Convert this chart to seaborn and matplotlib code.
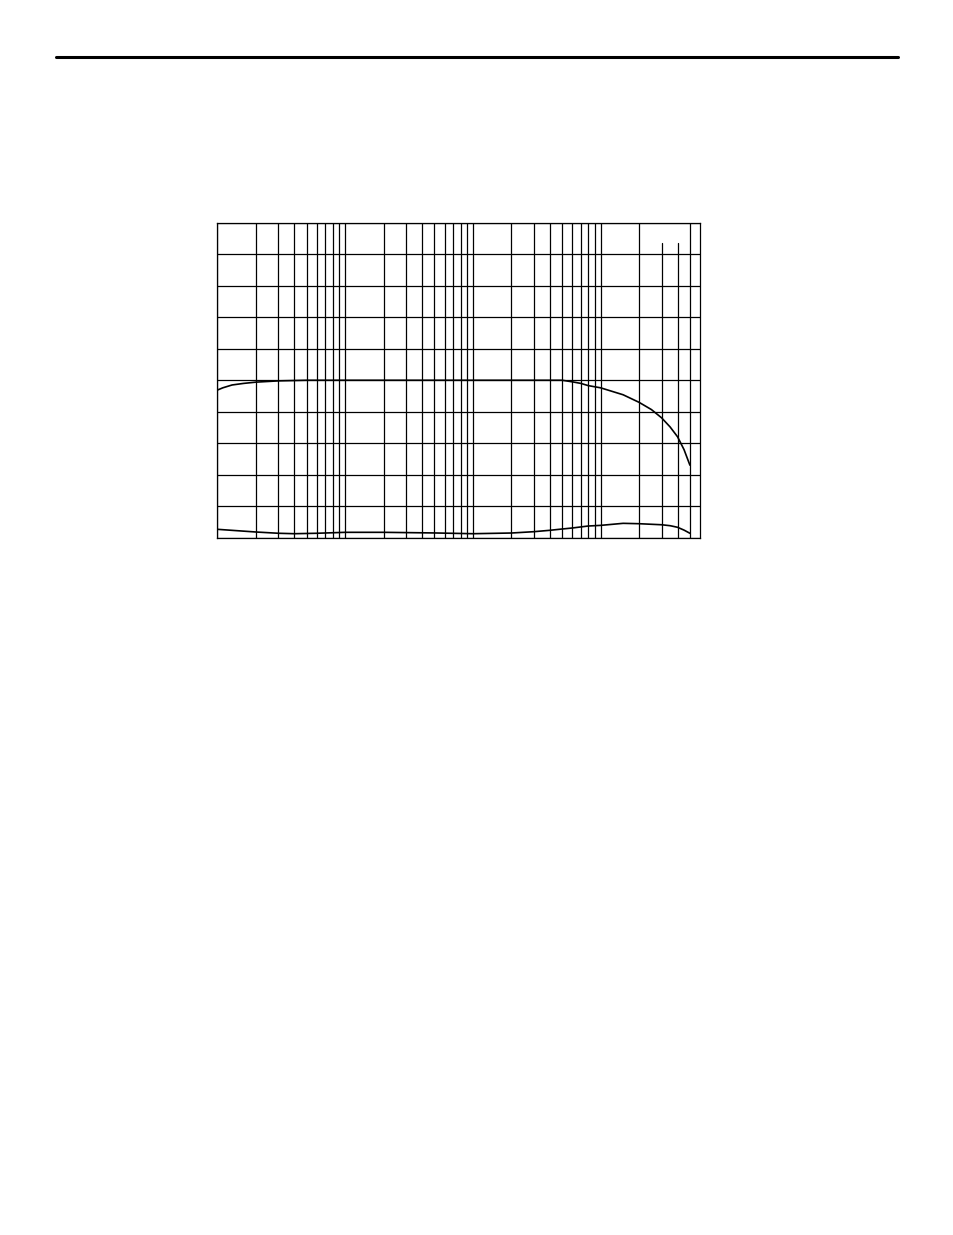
import matplotlib
matplotlib.use("Agg")
import matplotlib.pyplot as plt
from matplotlib.lines import Line2D
import seaborn as sns
import pandas as pd

# upper trace (gain-like): 10 divisions full scale
upper_freq = [10, 11, 13, 16, 20, 30, 50, 100, 1000, 4000, 5000, 6000, 7000, 8000,
              10000, 15000, 20000, 25000, 30000, 35000, 40000, 45000, 50000]
upper_val = [4.69, 4.76, 4.85, 4.90, 4.94, 4.98, 5.0, 5.0, 5.0, 5.0, 5.0, 4.95,
             4.90, 4.83, 4.76, 4.54, 4.30, 4.07, 3.81, 3.52, 3.21, 2.80, 2.31]

# lower trace (distortion-like)
lower_freq = [10, 20, 30, 40, 60, 100, 200, 500, 1000, 2000, 3000, 4000, 5000,
              6000, 8000, 10000, 15000, 20000, 30000, 35000, 40000, 45000, 50000]
lower_val = [0.275, 0.19, 0.15, 0.136, 0.15, 0.18, 0.18, 0.16, 0.136, 0.158,
             0.20, 0.244, 0.285, 0.317, 0.38, 0.40, 0.465, 0.453, 0.42, 0.39,
             0.34, 0.25, 0.15]

# grid layout of the log-frequency paper
x_range = (10, 60000)
y_range = (0, 10)
decades = [10, 100, 1000, 10000]
minor_full = [m * d for d in decades for m in range(2, 10) if m * d < 60000
              and m * d not in (30000, 40000)]
minor_short = [30000, 40000]   # these two lines stop short of the top

sns.set_theme(style="white")
plt.rcParams['font.family'] = ['DejaVu Sans']

fig = plt.figure(figsize=(9.54, 12.35), dpi=100)
ax = fig.add_axes([217.5 / 954, 1 - 538 / 1235, 482.5 / 954, 315.5 / 1235])

up = pd.DataFrame({"freq": upper_freq, "val": upper_val})
lo = pd.DataFrame({"freq": lower_freq, "val": lower_val})
sns.lineplot(data=up, x="freq", y="val", ax=ax, color="black", lw=1.2,
             estimator=None, sort=False, zorder=3)
sns.lineplot(data=lo, x="freq", y="val", ax=ax, color="black", lw=1.2,
             estimator=None, sort=False, zorder=3)

ax.set_xscale("log")
ax.set_xlim(*x_range)
ax.set_ylim(*y_range)
ax.set_xticks(decades)
ax.set_xticks(minor_full, minor=True)
ax.set_yticks(range(0, 11))
ax.grid(True, which="both", axis="x", color="black", lw=0.9)
ax.grid(True, which="major", axis="y", color="black", lw=0.9)
for f in minor_short:
    ax.axvline(f, ymax=0.935, color="black", lw=0.9)

ax.tick_params(which="both", length=0, labelbottom=False, labelleft=False)
ax.set_xlabel("")
ax.set_ylabel("")
for s in ax.spines.values():
    s.set_color("black")
    s.set_linewidth(0.9)

# heavy rule across the page header
fig.add_artist(Line2D([56 / 954, 898 / 954], [1 - 56.5 / 1235, 1 - 56.5 / 1235],
                      color="black", lw=2.2))

fig.savefig("out.png", dpi=100, facecolor="white")
